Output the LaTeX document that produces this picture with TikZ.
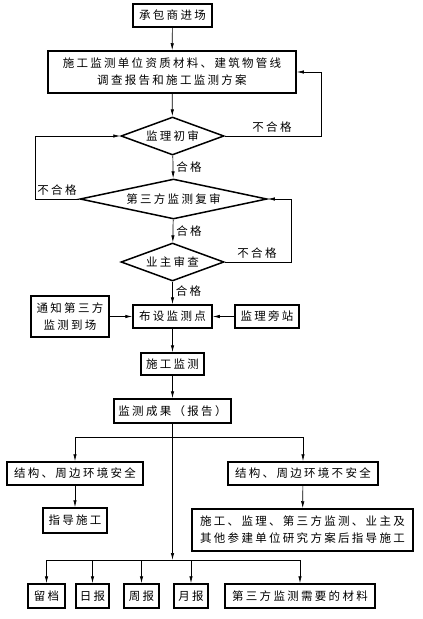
\documentclass[tikz,border=0pt]{standalone}
\usepackage{fontspec}
\setmainfont{Noto Sans CJK SC}[LetterSpace=20]
\usetikzlibrary{shapes.geometric,arrows.meta}
\begin{document}
\begin{tikzpicture}[x=1pt,y=-1pt,
  txt/.style={font=\fontsize{11.5}{17}\selectfont},
  box/.style={draw, line width=1.5pt, inner sep=0pt, align=center, txt},
  dia/.style={draw, diamond, line width=1.5pt, inner sep=0pt, txt},
  conn/.style={line width=0.7pt},
  arr/.style={conn, -{Latex[length=7pt,width=3.4pt]}},
  lab/.style={inner sep=0pt, txt}]
\useasboundingbox (0,0) rectangle (423,619);
\node[box, minimum width=79pt, minimum height=23pt] (start) at (172.5,15.5) {承包商进场};
\node[box, minimum width=248pt, minimum height=42pt] (mat) at (172,72) {施工监测单位资质材料、建筑物管线\\调查报告和施工监测方案};
\node[dia, aspect=2.7, minimum width=103pt, minimum height=38pt] (d1) at (172.5,136) {监理初审};
\node[dia, aspect=4.67, minimum width=187pt, minimum height=40pt] (d2) at (173.5,199) {第三方监测复审};
\node[dia, aspect=2.7, minimum width=103pt, minimum height=38pt] (d3) at (172.5,262) {业主审查};
\node[box, minimum width=79pt, minimum height=23pt] (lay) at (172.5,316.5) {布设监测点};
\node[box, minimum width=78pt, minimum height=41pt] (notify) at (70,316.5) {通知第三方\\监测到场};
\node[box, minimum width=64pt, minimum height=23pt] (sup) at (267,316.5) {监理旁站};
\node[box, minimum width=63pt, minimum height=22pt] (cons) at (172.5,364) {施工监测};
\node[box, minimum width=117pt, minimum height=24pt] (res) at (172.5,411) {监测成果（报告）};
\node[box, minimum width=136pt, minimum height=23pt] (safe) at (75,473.5) {结构、周边环境安全};
\node[box, minimum width=150pt, minimum height=23pt] (unsafe) at (303,473.5) {结构、周边环境不安全};
\node[box, minimum width=64pt, minimum height=25pt] (guide) at (75,520.5) {指导施工};
\node[box, minimum width=221pt, minimum height=42pt] (big) at (302.5,530) {施工、监理、第三方监测、业主及\\其他参建单位研究方案后指导施工};
\node[box, minimum width=37pt, minimum height=24pt] (a1) at (46.5,596) {留档};
\node[box, minimum width=33pt, minimum height=24pt] (a2) at (92.5,596) {日报};
\node[box, minimum width=35pt, minimum height=24pt] (a3) at (141.5,596) {周报};
\node[box, minimum width=34pt, minimum height=24pt] (a4) at (191,596) {月报};
\node[box, minimum width=150pt, minimum height=24pt] (a5) at (300,596) {第三方监测需要的材料};
\coordinate (r1) at (321,136);
\coordinate (l1) at (35,199);
\coordinate (r2) at (291,262);
\coordinate (j1) at (172.5,437);
\coordinate (j2) at (172.5,560);
\draw[arr] (start) -- (mat);
\draw[arr] (mat) -- (d1);
\draw[arr] (d1) -- node[lab, right=3pt] {合格} (d2);
\draw[arr] (d2) -- node[lab, right=3pt] {合格} (d3);
\draw[arr] (d3) -- node[lab, right=3pt, pos=0.4] {合格} (lay);
\draw[arr] (d1.east) -- (r1) |- (mat.east);
\node[lab] (n1) at (272,127) {不合格};
\draw[arr] (d2.west) -- (l1) |- (d1.west);
\node[lab] (n2) at (57,190) {不合格};
\draw[arr] (d3.east) -- (r2) |- (d2.east);
\node[lab] (n3) at (257,253) {不合格};
\draw[arr] (notify) -- (lay);
\draw[arr] (sup) -- (lay);
\draw[arr] (lay) -- (cons);
\draw[arr] (cons) -- (res);
\draw[arr] (res.south) -- (j2);
\draw[arr] (j1) -| (safe);
\draw[arr] (j1) -| (unsafe);
\draw[arr] (safe) -- (guide);
\draw[arr] (unsafe) -- (big);
\draw[arr] (j2) -| (a1);
\draw[arr] (j2) -| (a2);
\draw[arr] (j2) -| (a3);
\draw[arr] (j2) -| (a4);
\draw[arr] (j2) -| (a5);
\end{tikzpicture}
\end{document}
